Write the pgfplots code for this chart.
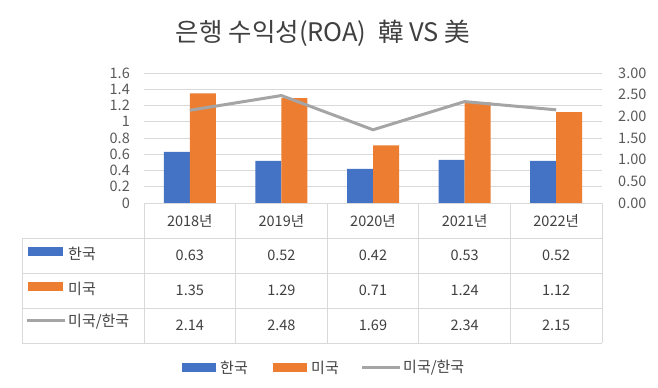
\documentclass[border=0pt]{standalone}
\usepackage{pgfplots}
\pgfplotsset{compat=1.18}
\usepackage{pgfplotstable}
\usepackage{fontspec}
\setmainfont{Noto Sans CJK KR}
\definecolor{kblue}{RGB}{68,114,196}
\definecolor{uorange}{RGB}{237,125,49}
\definecolor{rgray}{RGB}{165,165,165}
\definecolor{gridc}{RGB}{217,217,217}
\definecolor{tickc}{RGB}{89,89,89}
\definecolor{txtc}{RGB}{64,64,64}
\pgfplotstableread{
x kr us ratio
0 0.63 1.35 2.14
1 0.52 1.29 2.48
2 0.42 0.71 1.69
3 0.53 1.24 2.34
4 0.52 1.12 2.15
}\datatable
\begin{document}
\begin{tikzpicture}[x=1bp,y=1bp]
\path[use as bounding box] (0,0) rectangle (658,-387);
% title
\node[text=txtc, font=\fontsize{25.5bp}{30bp}\selectfont] at (323,-33) {은행 수익성(ROA)\ \ 韓 VS 美};
% bars, left axis
\begin{axis}[
  at={(144bp,-203bp)}, anchor=south west,
  width=458bp, height=130bp, scale only axis,
  xmin=-0.5, xmax=4.5, ymin=0, ymax=1.6,
  xtick=\empty,
  ytick={0,0.2,0.4,0.6,0.8,1,1.2,1.4,1.6},
  axis line style={draw=none},
  major tick length=0pt,
  ymajorgrids, grid style={gridc, line width=0.8bp},
  ticklabel style={font=\fontsize{14.5bp}{16bp}\selectfont, text=tickc, inner sep=0pt},
  yticklabel style={anchor=east, xshift=-14bp},
  /pgf/number format/assume math mode=true,
  ybar=0pt, bar width=26bp,
  clip=false,
]
\addplot[fill=kblue, draw=none] table[x=x,y=kr]{\datatable};
\addplot[fill=uorange, draw=none] table[x=x,y=us]{\datatable};
\end{axis}
% ratio, right axis
\begin{axis}[
  at={(144bp,-203bp)}, anchor=south west,
  width=458bp, height=130bp, scale only axis,
  xmin=-0.5, xmax=4.5, ymin=0, ymax=3,
  xtick=\empty,
  axis y line*=right, axis x line=none,
  ytick={0,0.5,1,1.5,2,2.5,3},
  axis line style={draw=none},
  major tick length=0pt,
  ticklabel style={font=\fontsize{14.5bp}{16bp}\selectfont, text=tickc, inner sep=0pt},
  yticklabel style={anchor=west, xshift=16bp, /pgf/number format/.cd, fixed, fixed zerofill, precision=2},
  /pgf/number format/assume math mode=true,
]
\addplot[rgray, line width=3bp, no markers] table[x=x,y=ratio]{\datatable};
\end{axis}
% data table
\begin{scope}[draw=gridc, line width=0.9bp]
\draw (144,-203) -- (602,-203);
\foreach \yy in {-238,-273,-308,-343} \draw (22,\yy) -- (602,\yy);
\draw (22,-238) -- (22,-343);
\foreach \xx in {144,235.6,327.2,418.8,510.4,602} \draw (\xx,-203) -- (\xx,-343);
\end{scope}
\begin{scope}[every node/.style={text=txtc, font=\fontsize{14.5bp}{16bp}\selectfont}]
\foreach \lab [count=\i from 0] in {2018년,2019년,2020년,2021년,2022년}
  \node at (189.8+91.6*\i,-220.5) {\lab};
\foreach \v [count=\i from 0] in {0.63,0.52,0.42,0.53,0.52}
  \node at (189.8+91.6*\i,-255.5) {\v};
\foreach \v [count=\i from 0] in {1.35,1.29,0.71,1.24,1.12}
  \node at (189.8+91.6*\i,-290.5) {\v};
\foreach \v [count=\i from 0] in {2.14,2.48,1.69,2.34,2.15}
  \node at (189.8+91.6*\i,-325.5) {\v};
\end{scope}
\begin{scope}[every node/.style={text=txtc, font=\fontsize{15bp}{17bp}\selectfont, anchor=west, inner sep=0pt}]
\fill[kblue] (28,-247) rectangle (63,-256);
\node at (68,-254) {한국};
\fill[uorange] (28,-282) rectangle (63,-291);
\node at (68,-289) {미국};
\draw[rgray, line width=3bp] (27,-320) -- (65,-320);
\node at (68,-322) {미국/한국};
% legend
\fill[kblue] (182,-363) rectangle (216,-372);
\node at (220,-368) {한국};
\fill[uorange] (273,-363) rectangle (307,-372);
\node at (311,-368) {미국};
\draw[rgray, line width=3bp] (362,-367.5) -- (400,-367.5);
\node at (403,-368) {미국/한국};
\end{scope}
\end{tikzpicture}
\end{document}
